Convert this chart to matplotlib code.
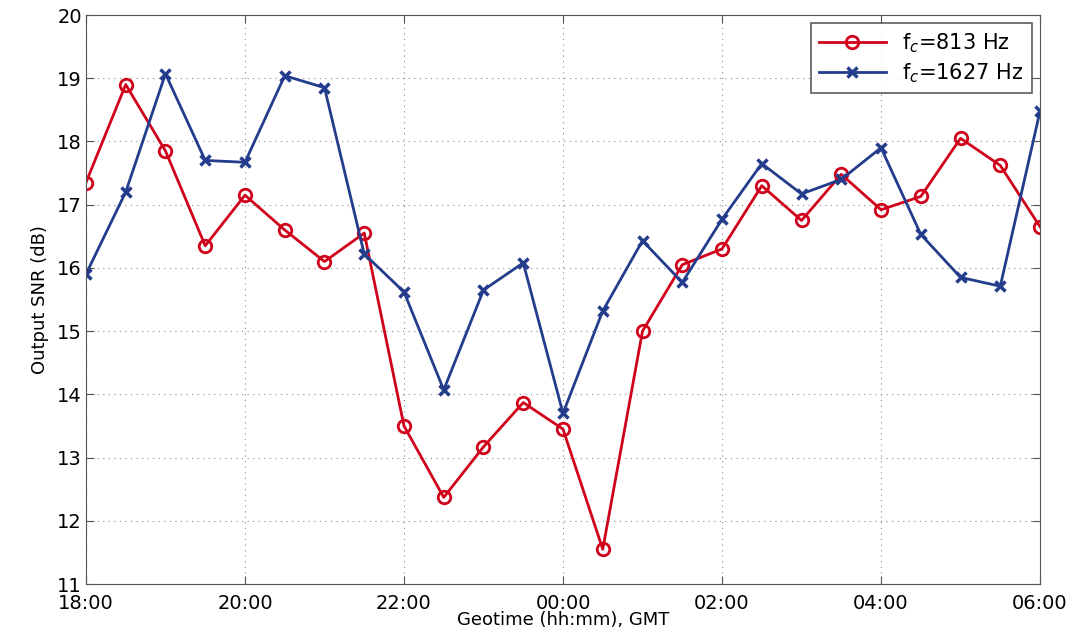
import matplotlib.pyplot as plt
import numpy as np

# hours after 18:00, half-hour sampling
hours = np.arange(0, 12.5, 0.5)
snr_813 = [17.35, 18.9, 17.85, 16.35, 17.15, 16.6, 16.1, 16.55, 13.5, 12.37,
           13.17, 13.87, 13.45, 11.55, 15.0, 16.05, 16.3, 17.3, 16.75, 17.48,
           16.92, 17.13, 18.05, 17.62, 16.65]
snr_1627 = [15.9, 17.2, 19.07, 17.7, 17.67, 19.04, 18.85, 16.22, 15.62, 14.07,
            15.65, 16.08, 13.7, 15.32, 16.43, 15.77, 16.77, 17.65, 17.17, 17.4,
            17.9, 16.53, 15.85, 15.71, 18.48]
tick_pos = [0, 2, 4, 6, 8, 10, 12]
tick_lab = ["18:00", "20:00", "22:00", "00:00", "02:00", "04:00", "06:00"]

plt.rcParams['mathtext.fontset'] = 'dejavusans'

fig = plt.figure(figsize=(10.8, 6.33), dpi=100)
ax = fig.add_axes([0.0796, 0.0774, 0.8834, 0.8989])

ax.plot(hours, snr_813, color='#d0021b', lw=2, marker='o', ms=9,
        mfc='none', mew=2, label=r'f$_c$=813 Hz')
ax.plot(hours, snr_1627, color='#233c8c', lw=2, marker='x', ms=7,
        mew=2.5, label=r'f$_c$=1627 Hz')

ax.set_xlim(0, 12)
ax.set_ylim(11, 20)
ax.set_xticks(tick_pos)
ax.set_xticklabels(tick_lab)
ax.set_yticks(range(11, 21))
ax.grid(True, ls=(0, (1, 4)), color='#888888', lw=0.8)
ax.tick_params(direction='in', top=True, right=True, labelsize=14,
               length=6, color='#555555', pad=3)
ax.tick_params(axis='x', pad=7)
for s in ax.spines.values():
    s.set_color('#555555')

ax.set_xlabel('Geotime (hh:mm), GMT', fontsize=13, labelpad=-1)
ax.set_ylabel('Output SNR (dB)', fontsize=13, labelpad=6)

leg = ax.legend(loc='upper right', fontsize=15, fancybox=False,
                edgecolor='#333333', handlelength=3.2, borderaxespad=0.4,
                labelspacing=0.3)
leg.get_frame().set_linewidth(1.2)

fig.savefig('out.png', dpi=100)
